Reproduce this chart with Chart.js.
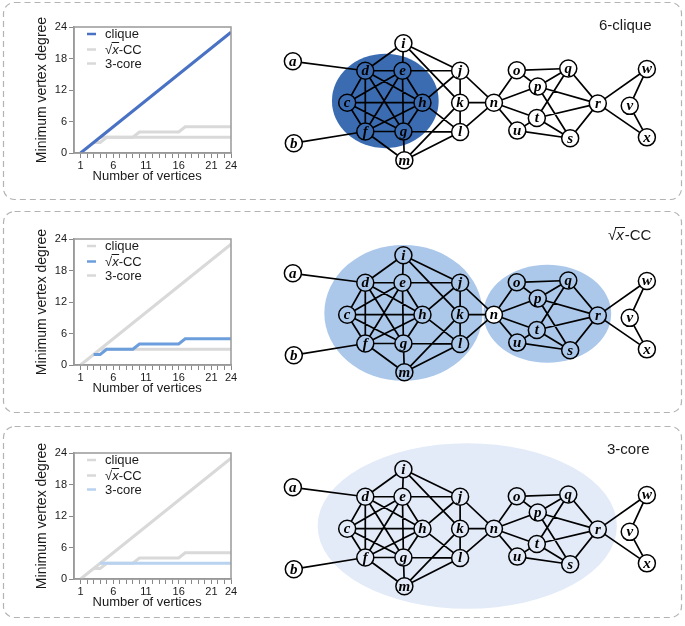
<!DOCTYPE html>
<html>
<head>
<meta charset="utf-8">
<script src="https://cdn.jsdelivr.net/npm/chart.js@4.4.1/dist/chart.umd.min.js"></script>
<style>
  body { margin: 0; background: #fff; }
  #page { position: relative; width: 685px; height: 626px; overflow: hidden; font-family: 'Liberation Sans', Arial, sans-serif; }
  canvas { position: absolute; }
  .tag { position: absolute; font-size: 15px; line-height: 18px; color: #1a1a1a; white-space: nowrap; }
  .tag .rad { display: inline-block; font-style: italic; border-top: 1px solid #1a1a1a; line-height: 13px; margin-left: -1px; padding: 0 1px 0 1px; }
</style>
</head>
<body>
<div id="page">
  <svg width="685" height="626" style="position:absolute;left:0;top:0">
    <g fill="none" stroke="#b3b3b3" stroke-width="1.2" stroke-dasharray="6 4">
      <rect x="3.5" y="2.5" width="678" height="197" rx="11"/>
      <rect x="3.5" y="211.5" width="678" height="201" rx="11"/>
      <rect x="3.5" y="426.5" width="678" height="191" rx="11"/>
    </g>
  </svg>
  <canvas id="degreeChart1" width="255" height="200" style="left:0;top:0"></canvas>
  <canvas id="graphChart1" width="425" height="200" style="left:260px;top:0"></canvas>
  <canvas id="degreeChart2" width="255" height="200" style="left:0;top:211.5px"></canvas>
  <canvas id="graphChart2" width="425" height="200" style="left:260px;top:211.5px"></canvas>
  <canvas id="degreeChart3" width="255" height="200" style="left:0;top:425.5px"></canvas>
  <canvas id="graphChart3" width="425" height="200" style="left:260px;top:425.5px"></canvas>
  <div class="tag" style="left:599px;top:16px">6-clique</div>
  <div class="tag" style="left:608px;top:226px">√<span class="rad">x</span>-CC</div>
  <div class="tag" style="left:607px;top:440px">3-core</div>
</div>
<script>
// Degree curves
const vertexCounts = [1, 2, 3, 4, 5, 6, 7, 8, 9, 10, 11, 12, 13, 14, 15, 16, 17, 18, 19, 20, 21, 22, 23, 24];
const cliqueDegree = [0, 1, 2, 3, 4, 5, 6, 7, 8, 9, 10, 11, 12, 13, 14, 15, 16, 17, 18, 19, 20, 21, 22, 23];
const sqrtCCDegree = [null, null, 2, 2, 3, 3, 3, 3, 3, 4, 4, 4, 4, 4, 4, 4, 5, 5, 5, 5, 5, 5, 5, 5];
const coreDegree = [null, null, null, 3, 3, 3, 3, 3, 3, 3, 3, 3, 3, 3, 3, 3, 3, 3, 3, 3, 3, 3, 3, 3];
const seriesNames = ['clique', '√x-CC', '3-core'];
const xTickLabels = [1, 6, 11, 16, 21, 24];
const yTickLabels = [0, 6, 12, 18, 24];

const activeColors = ['#4a72c4', '#6c9edb', '#b9d2ef'];
const inactiveColor = '#d9d9d9';

// Graph vertices (layout coordinates) and edges
const nodeNames = ['a', 'b', 'c', 'd', 'e', 'f', 'g', 'h', 'i', 'j', 'k', 'l', 'm', 'n', 'o', 'p', 'q', 'r', 's', 't', 'u', 'v', 'w', 'x'];
const nodeX = [284, 285, 341, 360, 399, 360, 400, 420, 400, 459.5, 459.5, 459.5, 401, 495, 519, 541, 573, 604, 575, 540, 519.5, 637.5, 655.5, 655.5];
const nodeY = [57, 148, 103, 67.5, 67.5, 135, 135, 103, 37, 67.5, 103, 135.5, 167, 103, 67, 85, 65, 104, 142.5, 120, 134, 106.5, 65.5, 141.5];
const edgeList = [
  ['a', 'd'], ['b', 'f'],
  ['c', 'd'], ['c', 'e'], ['c', 'f'], ['c', 'g'], ['c', 'h'],
  ['d', 'e'], ['d', 'f'], ['d', 'g'], ['d', 'h'],
  ['e', 'f'], ['e', 'g'], ['e', 'h'], ['f', 'g'], ['f', 'h'], ['g', 'h'],
  ['i', 'd'], ['i', 'e'], ['i', 'j'], ['i', 'k'],
  ['e', 'j'], ['h', 'j'], ['h', 'l'], ['g', 'l'],
  ['m', 'f'], ['m', 'g'], ['m', 'l'], ['m', 'k'],
  ['j', 'k'], ['k', 'l'], ['j', 'n'], ['k', 'n'], ['l', 'n'],
  ['n', 'o'], ['n', 'p'], ['n', 't'], ['n', 'u'],
  ['o', 'q'], ['o', 'p'], ['p', 'q'], ['p', 'r'], ['p', 's'], ['q', 't'], ['q', 'r'],
  ['t', 'r'], ['t', 's'], ['u', 't'], ['u', 's'], ['s', 'r'],
  ['r', 'w'], ['r', 'x'], ['w', 'v'], ['v', 'x']
];

// Highlighted groups per panel
const cliqueMembers = ['c', 'd', 'e', 'f', 'g', 'h'];
const ccLeftMembers = ['c', 'd', 'e', 'f', 'g', 'h', 'i', 'j', 'k', 'l', 'm'];
const ccRightMembers = ['o', 'p', 'q', 'r', 's', 't', 'u'];
const coreMembers = ['c', 'd', 'e', 'f', 'g', 'h', 'i', 'j', 'k', 'l', 'm', 'n', 'o', 'p', 'q', 'r', 's', 't', 'u'];

const panel1Blobs = [{ members: cliqueMembers, cx: 381, cy: 101, rx: 56, ry: 52.5, color: '#3b6cb2' }];
const panel2Blobs = [
  { members: ccLeftMembers, cx: 400, cy: 101, rx: 83, ry: 75.5, color: '#abc7e9' },
  { members: ccRightMembers, cx: 551, cy: 102, rx: 67, ry: 54.5, color: '#abc7e9' }
];
const panel3Blobs = [{ members: coreMembers, cx: 467, cy: 100, rx: 157, ry: 92, color: '#e3ebf8' }];

const textColor = '#1a1a1a';
const sansFamily = '"Liberation Sans", Arial, sans-serif';

// Frame around the plot area
const framePlugin = {
  id: 'frame',
  afterDraw(chart) {
    const { ctx, chartArea: a } = chart;
    ctx.save();
    ctx.strokeStyle = '#999';
    ctx.lineWidth = 1.5;
    ctx.strokeRect(a.left, a.top, a.right - a.left, a.bottom - a.top);
    ctx.restore();
  }
};

// Draw a label, setting "√x" as a radical over an italic x
function drawLabel(ctx, text, x, y) {
  ctx.font = '13px ' + sansFamily;
  if (text.startsWith('√x')) {
    ctx.fillText('√', x, y);
    const w1 = ctx.measureText('√').width;
    ctx.font = 'italic 13px ' + sansFamily;
    ctx.fillText('x', x + w1, y);
    const wx = ctx.measureText('x').width;
    ctx.beginPath();
    ctx.moveTo(x + w1 - 0.5, y - 7.5);
    ctx.lineTo(x + w1 + wx + 0.5, y - 7.5);
    ctx.lineWidth = 1;
    ctx.strokeStyle = textColor;
    ctx.stroke();
    ctx.font = '13px ' + sansFamily;
    ctx.fillText(text.slice(2), x + w1 + wx, y);
  } else {
    ctx.fillText(text, x, y);
  }
}

const legendPlugin = {
  id: 'innerLegend',
  afterDraw(chart) {
    const { ctx, chartArea: a } = chart;
    const rows = [7, 22.5, 36.5];
    ctx.save();
    chart.data.datasets.forEach((ds, i) => {
      const y = a.top + rows[i];
      ctx.strokeStyle = ds.borderColor;
      ctx.lineWidth = 2.5;
      ctx.beginPath();
      ctx.moveTo(a.left + 13, y);
      ctx.lineTo(a.left + 22, y);
      ctx.stroke();
      ctx.fillStyle = textColor;
      ctx.textBaseline = 'middle';
      drawLabel(ctx, ds.label, a.left + 31, y + 0.5);
    });
    ctx.restore();
  }
};

function makeDegreeChart(canvasId, active) {
  const seriesValues = [cliqueDegree, sqrtCCDegree, coreDegree];
  return new Chart(document.getElementById(canvasId), {
    type: 'line',
    data: {
      datasets: seriesValues.map((vals, i) => ({
        label: seriesNames[i],
        data: vals.map((v, j) => ({ x: vertexCounts[j], y: v })),
        borderColor: i === active ? activeColors[i] : inactiveColor,
        borderWidth: 3,
        pointRadius: 0,
        tension: 0,
        spanGaps: false,
        order: i === active ? 0 : i + 1
      }))
    },
    options: {
      responsive: false,
      animation: false,
      layout: { padding: { left: 31, top: 27, right: 24, bottom: 14 } },
      plugins: { legend: { display: false }, tooltip: { enabled: false } },
      scales: {
        x: {
          type: 'linear', min: 0, max: 24,
          afterBuildTicks: s => { s.ticks = vertexCounts.map(v => ({ value: v })); },
          afterFit: s => { s.height = 33; },
          ticks: {
            autoSkip: false, maxRotation: 0, padding: 1, color: textColor,
            font: { size: 11, family: sansFamily },
            callback: v => xTickLabels.includes(v) ? String(v) : ''
          },
          grid: { drawOnChartArea: false, tickLength: 5, color: '#888', tickWidth: 1 },
          border: { color: '#999', width: 1.5 },
          title: {
            display: true, text: 'Number of vertices   ', color: textColor,
            font: { size: 13, family: sansFamily },
            padding: { top: 0, bottom: 1.5 }
          }
        },
        y: {
          type: 'linear', min: 0, max: 24,
          afterBuildTicks: s => { s.ticks = yTickLabels.map(v => ({ value: v })); },
          afterFit: s => { s.width = 43; },
          ticks: {
            padding: 2, color: textColor,
            font: { size: 11, family: sansFamily }
          },
          grid: { drawOnChartArea: false, tickLength: 5, color: '#888', tickWidth: 1 },
          border: { color: '#999', width: 1.5 },
          title: {
            display: true, text: 'Minimum vertex degree', color: textColor,
            font: { size: 14, family: sansFamily },
            padding: { top: 3, bottom: 0 }
          }
        }
      }
    },
    plugins: [framePlugin, legendPlugin]
  });
}

// Shaded groups behind the graph
const blobPlugin = {
  id: 'blobs',
  beforeDatasetsDraw(chart, args, opts) {
    const { ctx, scales: { x, y } } = chart;
    ctx.save();
    opts.blobs.forEach(b => {
      const cx = x.getPixelForValue(b.cx);
      const cy = y.getPixelForValue(b.cy);
      const rx = Math.abs(x.getPixelForValue(b.cx + b.rx) - cx);
      const ry = Math.abs(y.getPixelForValue(b.cy + b.ry) - cy);
      ctx.fillStyle = b.color;
      ctx.beginPath();
      ctx.ellipse(cx, cy, rx, ry, 0, 0, Math.PI * 2);
      ctx.fill();
    });
    ctx.restore();
  }
};

// Vertex letters
const nodeLabelPlugin = {
  id: 'nodeLabels',
  afterDatasetsDraw(chart) {
    const { ctx } = chart;
    const meta = chart.getDatasetMeta(0);
    ctx.save();
    ctx.fillStyle = '#000';
    ctx.font = 'bold italic 15px "Liberation Serif", "DejaVu Serif", serif';
    ctx.textAlign = 'center';
    ctx.textBaseline = 'middle';
    meta.data.forEach((pt, i) => {
      ctx.fillText(nodeNames[i], pt.x, pt.y + 0.5);
    });
    ctx.restore();
  }
};

function makeGraphChart(canvasId, blobs) {
  const fills = nodeNames.map(n => {
    const b = blobs.find(bl => bl.members.includes(n));
    return b ? b.color : '#fff';
  });
  const edgePoints = [];
  edgeList.forEach(([u, v]) => {
    const a = nodeNames.indexOf(u);
    const b = nodeNames.indexOf(v);
    edgePoints.push({ x: nodeX[a], y: nodeY[a] });
    edgePoints.push({ x: nodeX[b], y: nodeY[b] });
    edgePoints.push({ x: nodeX[b], y: null });
  });
  return new Chart(document.getElementById(canvasId), {
    type: 'scatter',
    data: {
      datasets: [
        {
          label: 'vertices',
          data: nodeNames.map((n, i) => ({ x: nodeX[i], y: nodeY[i] })),
          pointRadius: 8.5,
          pointBackgroundColor: fills,
          pointBorderColor: '#000',
          pointBorderWidth: 1.5,
          order: 0
        },
        {
          label: 'edges',
          data: edgePoints,
          showLine: true,
          spanGaps: false,
          pointRadius: 0,
          borderColor: '#000',
          borderWidth: 1.7,
          order: 1
        }
      ]
    },
    options: {
      responsive: false,
      animation: false,
      layout: { padding: 0 },
      plugins: { legend: { display: false }, tooltip: { enabled: false }, blobs: { blobs } },
      scales: {
        x: { type: 'linear', min: 260, max: 685, display: false },
        y: { type: 'linear', min: 0, max: 200, reverse: true, display: false }
      }
    },
    plugins: [blobPlugin, nodeLabelPlugin]
  });
}

makeDegreeChart('degreeChart1', 0);
makeDegreeChart('degreeChart2', 1);
makeDegreeChart('degreeChart3', 2);
makeGraphChart('graphChart1', panel1Blobs);
makeGraphChart('graphChart2', panel2Blobs);
makeGraphChart('graphChart3', panel3Blobs);
</script>
</body>
</html>
